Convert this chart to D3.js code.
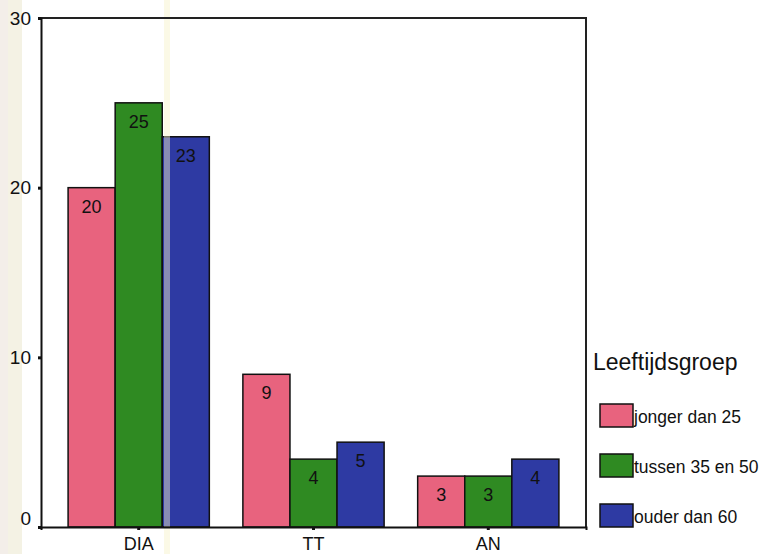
<!DOCTYPE html>
<html><head><meta charset="utf-8">
<script src="https://cdn.jsdelivr.net/npm/d3@7"></script>
<style>body{margin:0;background:#fff;}svg{display:block;font-family:"Liberation Sans",Arial,sans-serif;}</style>
</head><body>
<svg id="c" width="763" height="554"></svg>
<script>
const categories = ["DIA", "TT", "AN"];
const seriesNames = ["jonger dan 25", "tussen 35 en 50", "ouder dan 60"];
const jonger = [20, 9, 3];
const tussen = [25, 4, 3];
const ouder = [23, 5, 4];
const yTicks = [0, 10, 20, 30];
const legendTitle = "Leeftijdsgroep";
const colors = ["#e8637e", "#2f8a22", "#2e3aa3"];

const series = [jonger, tussen, ouder];
const svg = d3.select("#c");
const L = 41, R = 586, T = 18, B = 527;

// faint scan stripes
svg.append("rect").attr("x", 0).attr("y", 0).attr("width", 8).attr("height", 554).attr("fill", "#f3eee9");
svg.append("rect").attr("x", 8).attr("y", 0).attr("width", 14).attr("height", 554).attr("fill", "#f4f2e4");

const x = d3.scaleBand().domain(categories).range([L, R]).paddingInner(0.192).paddingOuter(0.155);
const xs = d3.scaleBand().domain(d3.range(3)).range([0, x.bandwidth()]);
const y = d3.scaleLinear().domain([0, 30]).range([B, T]);

const g = svg.append("g");
categories.forEach((c, ci) => {
  series.forEach((s, si) => {
    const v = s[ci];
    const bx = x(c) + xs(si);
    g.append("rect").attr("x", bx).attr("y", y(v)).attr("width", xs.bandwidth()).attr("height", y(0) - y(v))
      .attr("fill", colors[si]).attr("stroke", "#111").attr("stroke-width", 1.5);
    g.append("text").attr("x", bx + xs.bandwidth() / 2).attr("y", y(v) + 25)
      .attr("text-anchor", "middle").attr("font-size", 18).attr("fill", "#111").text(v);
  });
});

svg.append("rect").attr("x", 164).attr("y", 0).attr("width", 6).attr("height", 554).attr("fill", "#f6f2c8").attr("opacity", 0.45);

// frame
svg.append("path").attr("d", `M${L},${T}H${R}V${B}`).attr("fill", "none").attr("stroke", "#222").attr("stroke-width", 2);

const ya = svg.append("g").attr("transform", `translate(${L},0)`)
  .call(d3.axisLeft(y).tickValues(yTicks).tickSize(3).tickPadding(7).tickFormat(d3.format("d")));
ya.select(".domain").attr("stroke", "#111").attr("stroke-width", 2);
ya.selectAll(".tick line").attr("stroke", "#111").attr("stroke-width", 3);
ya.selectAll("text").attr("font-size", 19).attr("fill", "#111").attr("font-family", "Liberation Sans, Arial, sans-serif")
  .attr("dy", d => d === 0 ? "-0.15em" : "0.32em");

const xa = svg.append("g").attr("transform", `translate(0,${B})`)
  .call(d3.axisBottom(x).tickSize(3).tickPadding(7));
xa.select(".domain").attr("stroke", "#111").attr("stroke-width", 2);
xa.selectAll(".tick line").attr("stroke", "#111").attr("stroke-width", 3);
xa.selectAll("text").attr("font-size", 18).attr("fill", "#111").attr("font-family", "Liberation Sans, Arial, sans-serif");

// legend
const lg = svg.append("g");
lg.append("text").attr("x", 593).attr("y", 370).attr("font-size", 23).attr("fill", "#111").text(legendTitle);
seriesNames.forEach((n, i) => {
  const yy = 404 + i * 50;
  lg.append("rect").attr("x", 600).attr("y", yy).attr("width", 33).attr("height", 23)
    .attr("fill", colors[i]).attr("stroke", "#111").attr("stroke-width", 1.5);
  lg.append("text").attr("x", 634).attr("y", yy + 19).attr("font-size", 17.5).attr("fill", "#111").text(n);
});
</script>
</body></html>
